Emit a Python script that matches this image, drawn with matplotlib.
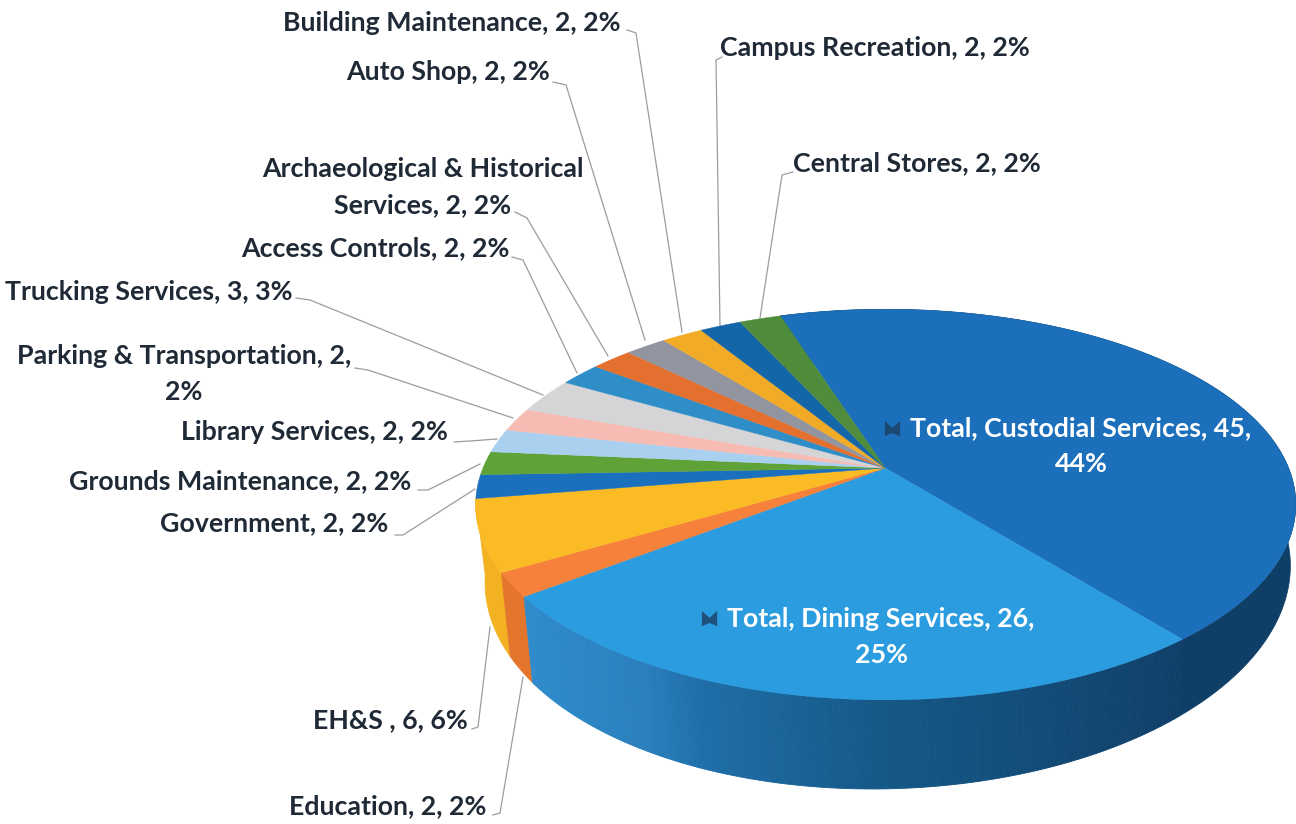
import numpy as np
import matplotlib
matplotlib.use('Agg')
import matplotlib.pyplot as plt
from matplotlib.colors import to_rgb

#%% data
names = ['Total, Custodial Services', 'Total, Dining Services', 'Education', 'EH&S ',
         'Government', 'Grounds Maintenance', 'Library Services', 'Parking & Transportation',
         'Trucking Services', 'Access Controls', 'Archaeological & Historical Services',
         'Auto Shop', 'Building Maintenance', 'Campus Recreation', 'Central Stores']
valores = [45, 26, 2, 6, 2, 2, 2, 2, 3, 2, 2, 2, 2, 2, 2]
porcentajes = [44, 25, 2, 6, 2, 2, 2, 2, 3, 2, 2, 2, 2, 2, 2]
colores = ['#1b6fbb', '#2b9cdf', '#f5813b', '#fbbb24', '#1a70bd', '#5fa238', '#a9d0ef', '#f6bcb4',
           '#d5d5d8', '#2f8dc8', '#e4702f', '#9295a0', '#f1ab26', '#1566a9', '#4f8c3c']
colores_lado = ['#0f3e66', '#2b8aca', '#e4752c', '#f3b222']

# label centres in page pixels
etiquetas = {
    'Building Maintenance': (452, 23), 'Campus Recreation': (875, 48), 'Auto Shop': (448, 72),
    'Central Stores': (917, 163), 'Archaeological & Historical Services': (423, 187),
    'Access Controls': (375, 248), 'Trucking Services': (149, 292),
    'Parking & Transportation': (184, 374), 'Library Services': (314, 432),
    'Grounds Maintenance': (240, 481), 'Government': (274, 523), 'EH&S ': (390, 720),
    'Education': (388, 806),
}
guias = {
    'Building Maintenance': [(627, 30), (636, 33), (682, 332)],
    'Campus Recreation': [(722, 57), (716, 60), (720, 326)],
    'Auto Shop': [(553, 82), (566, 85), (645, 340)],
    'Central Stores': [(793, 172), (782, 175), (760, 318)],
    'Archaeological & Historical Services': [(515, 212), (527, 218), (608, 356)],
    'Access Controls': [(512, 257), (523, 260), (577, 373)],
    'Trucking Services': [(296, 298), (310, 300), (543, 395)],
    'Parking & Transportation': [(355, 368), (368, 370), (513, 418)],
    'Library Services': [(454, 442), (470, 441), (497, 439)],
    'Grounds Maintenance': [(418, 490), (428, 490), (480, 464)],
    'Government': [(395, 535), (403, 535), (475, 489)],
    'EH&S ': [(472, 729), (478, 727), (490, 627)],
    'Education': [(493, 815), (500, 813), (523, 677)],
}

#%% projection of the pie circle on to the page, fitted on the slice corners
H = np.array([[409.27, 145.47, 885.09],
              [-5.8637, -100.59, 468.0],
              [0.0078865, 0.18713, 1.0]])
inicio = np.radians(105.0)

def proyecta(ang):
    p = H @ np.vstack([np.cos(ang), np.sin(ang), np.ones_like(ang)])
    return p[0] / p[2], p[1] / p[2]

def baja(x, y):
    # bottom rim of the disc under a point of the top rim
    return 887 + (x - 885) * 0.982, y + 73 + 0.1 * (y - 540) - 0.02 * (x - 885)

def color_comedor(x):
    stops_x = [525, 640, 700, 880, 1000, 1183]
    stops_c = np.array([to_rgb(c) for c in ['#2f8bcb', '#2a80bd', '#1f6ea8', '#145887', '#134f7c', '#103f68']])
    return [np.interp(x, stops_x, stops_c[:, i]) for i in range(3)]

fig = plt.figure(figsize=(12.96, 8.24), dpi=100)
ax = fig.add_axes([0, 0, 1, 1])
ax.set_xlim(0, 1296)
ax.set_ylim(824, 0)
ax.axis('off')

total = float(sum(valores))
limites = inicio - np.concatenate([[0], np.cumsum(valores)]) / total * 2 * np.pi

#%% sides, only the four front slices show one
for i in reversed(range(4)):
    ang = np.linspace(limites[i], limites[i + 1], max(3, int(valores[i] * 8)))
    x, y = proyecta(ang)
    xb, yb = baja(x, y)
    if names[i] == 'Total, Dining Services':
        for j in range(len(x) - 1):
            c = color_comedor((x[j] + x[j + 1]) / 2)
            ax.fill([x[j], x[j + 1], xb[j + 1], xb[j]], [y[j], y[j + 1], yb[j + 1], yb[j]],
                    facecolor=c, edgecolor=c, lw=0.6, zorder=1)
    else:
        ax.fill(np.r_[x, xb[::-1]], np.r_[y, yb[::-1]], facecolor=colores_lado[i],
                edgecolor=colores_lado[i], lw=0.5, zorder=1)

#%% top face
for i in range(len(valores)):
    ang = np.linspace(limites[i], limites[i + 1], max(3, int(valores[i] * 8)))
    x, y = proyecta(ang)
    ax.fill(np.r_[885.09, x], np.r_[468.0, y], facecolor=colores[i], edgecolor=colores[i], lw=0.3, zorder=2)

# light edge along the front rim
ang = np.linspace(limites[1] + 0.02, limites[1] + 2.0, 80)
x, y = proyecta(ang)
ax.plot(x[x < 900], y[x < 900], color='#5aaede', lw=1.6, zorder=3)

#%% leader lines and labels
fuente = dict(family='Lato', fontweight='bold', fontsize=19.3, linespacing=1.58)
for nombre, v, p in zip(names, valores, porcentajes):
    if nombre not in etiquetas:
        continue
    texto = f'{nombre}, {v}, {p}%'
    if nombre.startswith('Archaeological'):
        texto = 'Archaeological & Historical\nServices, 2, 2%'
    if nombre.startswith('Parking'):
        texto = 'Parking & Transportation, 2,\n2%'
    xt, yt = etiquetas[nombre]
    ax.text(xt, yt, texto, ha='center', va='center', color='#1f2a36', multialignment='center', **fuente)
    g = np.array(guias[nombre])
    ax.plot(g[:, 0], g[:, 1], color='#9a9ca2', lw=0.9, zorder=1.5)

ax.text(1081, 446, f'{names[0]}, {valores[0]},\n{porcentajes[0]}%', ha='center', va='center',
        color='white', multialignment='center', zorder=4, **fuente)
ax.text(881, 637, f'{names[1]}, {valores[1]},\n{porcentajes[1]}%', ha='center', va='center',
        color='white', multialignment='center', zorder=4, **fuente)

# little legend keys next to the two inside labels
llave = [(-1, -1), (-1, 1), (0, 0.1), (1, 1), (1, -1), (0, -0.6)]
ax.scatter([892, 709], [428, 618], marker=llave, s=120, color='#1d3f63', alpha=0.8, linewidths=0, zorder=4)

fig.savefig('out.png', dpi=100, facecolor='white')
